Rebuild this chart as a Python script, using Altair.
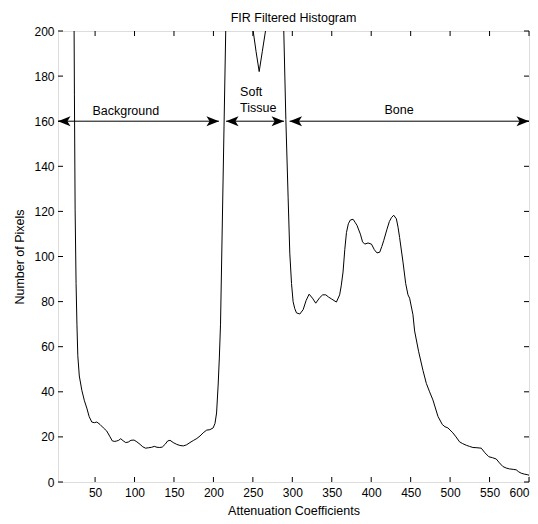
import altair as alt
import pandas as pd

# ---- data ----
atten = [3, 23.4, 23.8, 24.7, 25.9, 27.0, 28.1, 30, 33.2, 36.5, 39.5, 42.5, 45.8, 49, 52.2, 56.3,
         60.5, 64.8, 68.5, 71.9, 75, 77.5, 80, 82.5, 85.5, 88.8, 92, 95.5, 99.4, 103, 107, 110.5,
         114, 118, 121.8, 125, 128.5, 132, 135.2, 139, 142, 145, 149, 153.4, 157.5, 161.8, 166,
         170.3, 175, 179, 183, 187, 191.4, 195.5, 199.7, 202, 204, 206, 207.5, 209, 215.6, 230,
         250.4, 254, 258, 262, 266, 278, 289.2, 291.8, 294.7, 296.8, 299, 301, 303, 305.3, 309.5,
         313.7, 317.5, 321.3, 325.6, 329.7, 334.8, 338.5, 342.4, 346, 349.6, 355.9, 360, 362,
         364.3, 366.5, 368.6, 371, 373.6, 377, 379.5, 382, 386.3, 389, 391.8, 396, 400.3, 404,
         407.3, 410.8, 413.5, 415.8, 420, 423, 425.6, 428.5, 431.9, 434, 436, 440.3, 443.7, 446.6,
         448.7, 452.9, 455, 460, 465.6, 469.9, 474, 478.2, 484.6, 490.1, 493.5, 497.2, 503.5,
         507.5, 512, 516, 520.5, 524.5, 528.9, 534, 539.5, 544, 549.1, 553.5, 558.5, 562.5, 566.8,
         571, 575.3, 580, 583.8, 587, 590.1, 594, 598.5, 600]
counts = [400, 200, 172, 121, 88, 70, 56, 47, 40.7, 36, 32.8, 29, 26.6, 26.3, 26.6, 25.5,
          24, 22.6, 20.3, 18.2, 18, 18.2, 18.5, 19.2, 18.3, 17.5, 17.7, 18.5, 18.6, 17.8, 16.7, 15.6,
          15.0, 15.2, 15.4, 15.8, 15.4, 15.3, 15.5, 16.8, 18.2, 18.5, 17.5, 16.7, 16.2, 16.0, 16.5,
          17.5, 18.5, 19.3, 20.4, 21.8, 23, 23.2, 24, 26, 30.6, 43, 55, 70, 200, 400,
          200, 191, 182, 191, 200, 400, 200, 160.8, 126, 101.5, 88, 80, 77, 75, 74.5,
          76.4, 80.5, 83.3, 81.5, 79.3, 81.8, 83, 83, 82, 81.2, 79.8, 83, 87,
          93.1, 103, 110.6, 114.5, 116.2, 116.5, 115.2, 113.8, 109.9, 106.5, 105.5, 106, 105.5, 103,
          101.6, 101.9, 104.5, 107, 112.1, 115.5, 117.2, 118.3, 116.7, 113, 108.4, 97.5, 88, 83,
          81.5, 74.2, 67, 58, 49.5, 43.7, 40, 36.4, 29.1, 25.5, 24.5, 24, 21.8,
          20, 17.8, 17, 16.3, 15.8, 15.3, 15.2, 15, 13, 11.2, 10.8, 10.2, 8.5, 6.9,
          6.2, 5.8, 5.6, 5.4, 4.5, 3.9, 3.5, 3.2, 3]

x_ticks = [50, 100, 150, 200, 250, 300, 350, 400, 450, 500, 550, 600]
y_ticks = [0, 20, 40, 60, 80, 100, 120, 140, 160, 180, 200]

region_start = [3, 216, 296.5]
region_end = [207, 289.5, 600]
arrow_level = [160, 160, 160]

label_text = ["Background", "Soft", "Tissue", "Bone"]
label_x = [46.6, 233.8, 233.8, 416.7]
label_y = [162.9, 171.3, 163.9, 163.0]

# ---- layout / style ----
W, H = 471, 451
FONT = "Liberation Sans"
FS = 12.5

xscale = alt.Scale(domain=[3, 600], nice=False, zero=False)
yscale = alt.Scale(domain=[0, 200], nice=False, zero=False)

xaxis = alt.Axis(
    values=x_ticks, ticks=False, tickSize=0, domain=False, grid=False,
    labelFont=FONT, labelFontSize=12, labelColor="black", labelPadding=5,
    labelFlush=True, labelFlushOffset=0, labelOverlap=False,
    title="Attenuation Coefficients", titleFont=FONT, titleFontSize=FS,
    titleFontWeight="normal", titleColor="black", titleY=32,
    titleBaseline="alphabetic")
yaxis = alt.Axis(
    values=y_ticks, ticks=False, tickSize=0, domain=False, grid=False,
    labelFont=FONT, labelFontSize=12, labelColor="black", labelPadding=4,
    labelFlush=False, labelOverlap=False,
    title="Number of Pixels", titleFont=FONT, titleFontSize=FS,
    titleFontWeight="normal", titleColor="black", titleX=-34.5, titleY=H / 2,
    titleAngle=-90, titleBaseline="alphabetic", titleAlign="center")


def X(field):
    return alt.X(field, scale=xscale, axis=xaxis)


def Y(field):
    return alt.Y(field, scale=yscale, axis=yaxis)


curve = alt.Chart(pd.DataFrame({"a": atten, "n": counts})).mark_line(
    color="black", strokeWidth=1, clip=True
).encode(x=X("a:Q"), y=Y("n:Q"))

xt_df = pd.DataFrame({"t": x_ticks})
yt_df = pd.DataFrame({"t": y_ticks})
bottom_ticks = alt.Chart(xt_df).mark_rule(color="black", strokeWidth=1).encode(
    x=X("t:Q"), y=alt.value(H), y2=alt.value(H - 5))
top_ticks = alt.Chart(xt_df).mark_rule(color="black", strokeWidth=1).encode(
    x=X("t:Q"), y=alt.value(0), y2=alt.value(5))
left_ticks = alt.Chart(yt_df).mark_rule(color="black", strokeWidth=1).encode(
    y=Y("t:Q"), x=alt.value(0), x2=alt.value(5))
right_ticks = alt.Chart(yt_df).mark_rule(color="black", strokeWidth=1).encode(
    y=Y("t:Q"), x=alt.value(W - 5), x2=alt.value(W))

arr_df = pd.DataFrame({"s": region_start, "e": region_end, "y": arrow_level})
arrow_lines = alt.Chart(arr_df).mark_rule(color="black", strokeWidth=1).encode(
    x=X("s:Q"), x2="e:Q", y=Y("y:Q"))
left_heads = alt.Chart(arr_df).mark_point(
    shape="M0,0 L2,-0.8 L1.5,0 L2,0.8 Z", size=156, filled=True,
    color="black", opacity=1, strokeWidth=0
).encode(x=X("s:Q"), y=Y("y:Q"))
right_heads = alt.Chart(arr_df).mark_point(
    shape="M0,0 L-2,-0.8 L-1.5,0 L-2,0.8 Z", size=156, filled=True,
    color="black", opacity=1, strokeWidth=0
).encode(x=X("e:Q"), y=Y("y:Q"))

labels = alt.Chart(pd.DataFrame({"t": label_text, "x": label_x, "y": label_y})).mark_text(
    align="left", baseline="alphabetic", font=FONT, fontSize=FS, color="black"
).encode(x=X("x:Q"), y=Y("y:Q"), text="t:N")

chart = alt.layer(
    curve, bottom_ticks, top_ticks, left_ticks, right_ticks,
    arrow_lines, left_heads, right_heads, labels
).properties(
    width=W, height=H,
    title=alt.TitleParams("FIR Filtered Histogram", font=FONT, fontSize=FS,
                          fontWeight="normal", color="black", anchor="middle", offset=1),
    autosize=alt.AutoSizeParams(type="none"),
    padding={"left": 50, "top": 23, "right": 1, "bottom": 34},
).configure_view(stroke="black", strokeWidth=1).configure(background="white")

chart.save("out.html", embed_options={"renderer": "svg", "actions": False})
